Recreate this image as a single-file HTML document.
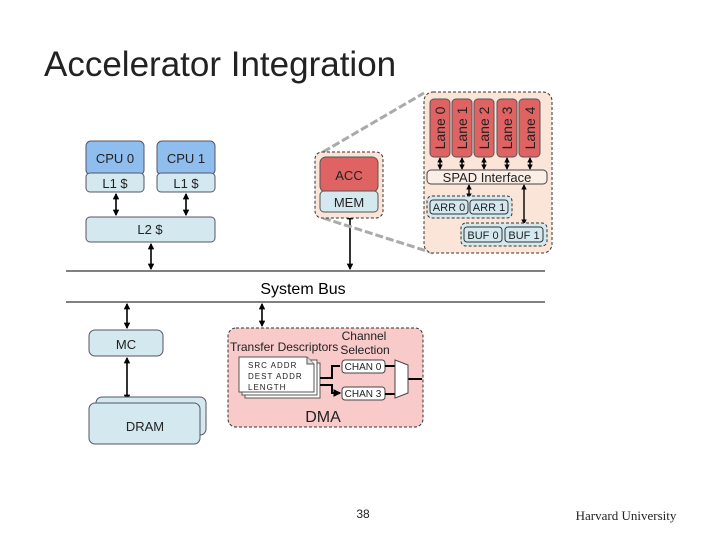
<!DOCTYPE html>
<html><head><meta charset="utf-8"><style>
html,body{margin:0;padding:0;background:#fff}
svg{display:block;font-family:"Liberation Sans",sans-serif}
</style></head><body>
<svg width="720" height="540" viewBox="0 0 720 540" xmlns="http://www.w3.org/2000/svg">
<defs>
<marker id="a" viewBox="0 0 6 6" refX="5" refY="3" markerWidth="4" markerHeight="4" orient="auto-start-reverse"><path d="M0,0L6,3L0,6z" fill="#000"/></marker>
</defs>
<text x="44" y="76" font-size="35" fill="#222">Accelerator Integration</text>

<rect x="86" y="141" width="58" height="34" rx="5" fill="#8fbdee" stroke="#556"/>
<text x="115" y="163" font-size="13" text-anchor="middle" fill="#222">CPU 0</text>
<rect x="86" y="173" width="58" height="19" rx="4" fill="#d4e8f0" stroke="#556"/>
<text x="115" y="188" font-size="13" text-anchor="middle" fill="#222">L1 $</text>
<rect x="157" y="141" width="58" height="34" rx="5" fill="#8fbdee" stroke="#556"/>
<text x="186" y="163" font-size="13" text-anchor="middle" fill="#222">CPU 1</text>
<rect x="157" y="173" width="58" height="19" rx="4" fill="#d4e8f0" stroke="#556"/>
<text x="186" y="188" font-size="13" text-anchor="middle" fill="#222">L1 $</text>
<rect x="86" y="217" width="129" height="25" rx="4" fill="#d4e8f0" stroke="#556"/>
<text x="150" y="234" font-size="13" text-anchor="middle" fill="#222">L2 $</text>
<g stroke="#000" stroke-width="1.6" marker-start="url(#a)" marker-end="url(#a)">
<line x1="116" y1="194" x2="116" y2="215"/>
<line x1="186" y1="194" x2="186" y2="215"/>
<line x1="151" y1="244" x2="151" y2="269"/>
<line x1="350" y1="214" x2="350" y2="269"/>
<line x1="127" y1="304" x2="127" y2="328"/>
<line x1="127" y1="358" x2="127" y2="400"/>
<line x1="262" y1="304" x2="262" y2="326"/>
</g>

<line x1="323" y1="152" x2="424" y2="93" stroke="#aaa" stroke-width="3" stroke-dasharray="8,3"/>
<line x1="323" y1="218" x2="433" y2="253" stroke="#aaa" stroke-width="3" stroke-dasharray="8,3"/>

<rect x="315" y="152" width="68" height="66" rx="7" fill="#fbe4d8" stroke="#333" stroke-dasharray="3,2"/>
<rect x="320" y="157" width="58" height="35" rx="6" fill="#e06363" stroke="#555"/>
<text x="349" y="180" font-size="13" text-anchor="middle" fill="#222">ACC</text>
<rect x="320" y="191" width="58" height="21" rx="4" fill="#d4e8f0" stroke="#555"/>
<text x="349" y="207" font-size="13" text-anchor="middle" fill="#222">MEM</text>

<rect x="424" y="92" width="128" height="161" rx="9" fill="#fbe4d8" stroke="#333" stroke-dasharray="3,2"/>
<g fill="#e06363" stroke="#555">
<rect x="430" y="99" width="20" height="58" rx="4"/>
<rect x="452" y="99" width="20" height="58" rx="4"/>
<rect x="474" y="99" width="20" height="58" rx="4"/>
<rect x="497" y="99" width="20" height="58" rx="4"/>
<rect x="519" y="99" width="21" height="58" rx="4"/>
</g>
<g font-size="14" fill="#222" text-anchor="middle">
<text transform="translate(445,128) rotate(-90)">Lane 0</text>
<text transform="translate(467,128) rotate(-90)">Lane 1</text>
<text transform="translate(489,128) rotate(-90)">Lane 2</text>
<text transform="translate(512,128) rotate(-90)">Lane 3</text>
<text transform="translate(535,128) rotate(-90)">Lane 4</text>
</g>
<g stroke="#000" stroke-width="1.4" marker-start="url(#a)" marker-end="url(#a)">
<line x1="440" y1="158" x2="440" y2="169"/>
<line x1="462" y1="158" x2="462" y2="169"/>
<line x1="484" y1="158" x2="484" y2="169"/>
<line x1="507" y1="158" x2="507" y2="169"/>
<line x1="530" y1="158" x2="530" y2="169"/>
<line x1="469" y1="185" x2="469" y2="198"/>
<line x1="524" y1="185" x2="524" y2="224"/>
</g>
<rect x="427" y="170" width="120" height="14" rx="4" fill="#fbeee6" stroke="#444"/>
<text x="487" y="182" font-size="13" text-anchor="middle" fill="#222">SPAD Interface</text>
<rect x="427" y="196" width="85" height="22" rx="5" fill="#d4e8f0" stroke="#333" stroke-dasharray="3,2"/>
<rect x="430" y="200" width="38" height="14" rx="3" fill="#d4e8f0" stroke="#333"/>
<rect x="470" y="200" width="38" height="14" rx="3" fill="#d4e8f0" stroke="#333"/>
<text x="449" y="211" font-size="11" text-anchor="middle" fill="#222">ARR 0</text>
<text x="489" y="211" font-size="11" text-anchor="middle" fill="#222">ARR 1</text>
<rect x="461" y="223" width="86" height="23" rx="5" fill="#d4e8f0" stroke="#333" stroke-dasharray="3,2"/>
<rect x="464" y="227" width="38" height="15" rx="3" fill="#d4e8f0" stroke="#333"/>
<rect x="505" y="227" width="38" height="15" rx="3" fill="#d4e8f0" stroke="#333"/>
<text x="483" y="239" font-size="11" text-anchor="middle" fill="#222">BUF 0</text>
<text x="524" y="239" font-size="11" text-anchor="middle" fill="#222">BUF 1</text>

<line x1="66" y1="271" x2="545" y2="271" stroke="#000" stroke-width="1"/>
<line x1="66" y1="302" x2="545" y2="302" stroke="#000" stroke-width="1"/>
<text x="303" y="294" font-size="16" text-anchor="middle" fill="#000">System Bus</text>

<rect x="89" y="330" width="74" height="26" rx="6" fill="#d4e8f0" stroke="#556"/>
<text x="126" y="349" font-size="13" text-anchor="middle" fill="#222">MC</text>
<rect x="96" y="397" width="110" height="38" rx="6" fill="#d4e8f0" stroke="#556"/>
<rect x="89" y="403" width="111" height="41" rx="6" fill="#d4e8f0" stroke="#556"/>
<text x="145" y="431" font-size="13" text-anchor="middle" fill="#222">DRAM</text>

<rect x="228" y="328" width="195" height="99" rx="8" fill="#f9caca" stroke="#333" stroke-dasharray="3,2"/>
<text x="230" y="351" font-size="12" fill="#222">Transfer Descriptors</text>
<text x="364" y="340" font-size="12" text-anchor="middle" fill="#222">Channel</text>
<text x="365" y="354" font-size="12" text-anchor="middle" fill="#222">Selection</text>
<rect x="245" y="363" width="75" height="35" fill="#fff" stroke="#555"/>
<rect x="242" y="360" width="75" height="35" fill="#fff" stroke="#555"/>
<path d="M239,357 H307 L314,364 V392 H239 Z" fill="#fff" stroke="#555"/>
<path d="M307,357 V364 H314" fill="#ddd" stroke="#555"/>
<text x="248" y="368" font-size="8" fill="#222" letter-spacing="1">SRC ADDR</text>
<text x="248" y="379" font-size="8" fill="#222" letter-spacing="1">DEST ADDR</text>
<text x="248" y="390" font-size="8" fill="#222" letter-spacing="1">LENGTH</text>
<path d="M320,378 H332 V366 H340 M320,385 H332 V393 H340" fill="none" stroke="#000" stroke-width="2" marker-end="url(#a)"/>
<rect x="342" y="360" width="43" height="13" rx="3" fill="#fff" stroke="#444"/>
<text x="363" y="370" font-size="10" text-anchor="middle" fill="#222">CHAN 0</text>
<rect x="342" y="387" width="43" height="13" rx="3" fill="#fff" stroke="#444"/>
<text x="363" y="397" font-size="10" text-anchor="middle" fill="#222">CHAN 3</text>
<path d="M385,366 H395 M385,394 H395 M408,379 H422" stroke="#000" stroke-width="2"/>
<path d="M395,360 L408,365 V393 L395,398 Z" fill="#fff" stroke="#444"/>
<text x="323" y="422" font-size="16" text-anchor="middle" fill="#222">DMA</text>

<text x="363" y="518" font-size="12" text-anchor="middle" fill="#222">38</text>
<text x="626" y="520" font-size="13" font-family="Liberation Serif,serif" text-anchor="middle" fill="#222">Harvard University</text>
</svg>
</body></html>
